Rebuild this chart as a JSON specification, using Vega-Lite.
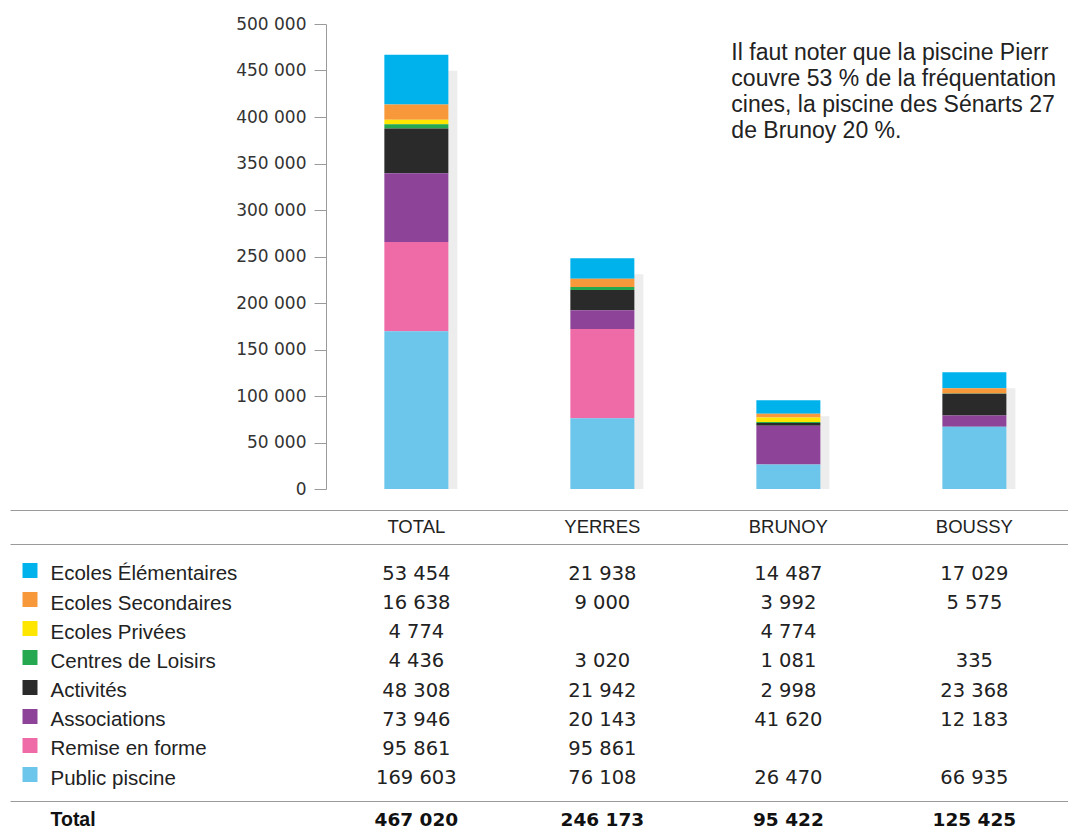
{
  "$schema": "https://vega.github.io/schema/vega-lite/v6.json",
  "padding": {"left": 10, "top": 15, "right": 0, "bottom": 0},
  "bounds": "flush",
  "spacing": 55,
  "config": {
    "locale": {"number": {"decimal": ",", "thousands": " ", "grouping": [3], "currency": ["", " €"]}},
    "font": "Liberation Sans",
    "view": {"stroke": null},
    "axis": {"grid": false}
  },
  "datasets": {
    "cats": [
      {"cat": "Public piscine", "rank": 1},
      {"cat": "Remise en forme", "rank": 2},
      {"cat": "Associations", "rank": 3},
      {"cat": "Activités", "rank": 4},
      {"cat": "Centres de Loisirs", "rank": 5},
      {"cat": "Ecoles Privées", "rank": 6},
      {"cat": "Ecoles Secondaires", "rank": 7},
      {"cat": "Ecoles Élémentaires", "rank": 8}
    ],
    "rows": [
      {"cat": "Ecoles Élémentaires", "col": "TOTAL", "v": 53454},
      {"cat": "Ecoles Élémentaires", "col": "YERRES", "v": 21938},
      {"cat": "Ecoles Élémentaires", "col": "BRUNOY", "v": 14487},
      {"cat": "Ecoles Élémentaires", "col": "BOUSSY", "v": 17029},
      {"cat": "Ecoles Secondaires", "col": "TOTAL", "v": 16638},
      {"cat": "Ecoles Secondaires", "col": "YERRES", "v": 9000},
      {"cat": "Ecoles Secondaires", "col": "BRUNOY", "v": 3992},
      {"cat": "Ecoles Secondaires", "col": "BOUSSY", "v": 5575},
      {"cat": "Ecoles Privées", "col": "TOTAL", "v": 4774},
      {"cat": "Ecoles Privées", "col": "BRUNOY", "v": 4774},
      {"cat": "Centres de Loisirs", "col": "TOTAL", "v": 4436},
      {"cat": "Centres de Loisirs", "col": "YERRES", "v": 3020},
      {"cat": "Centres de Loisirs", "col": "BRUNOY", "v": 1081},
      {"cat": "Centres de Loisirs", "col": "BOUSSY", "v": 335},
      {"cat": "Activités", "col": "TOTAL", "v": 48308},
      {"cat": "Activités", "col": "YERRES", "v": 21942},
      {"cat": "Activités", "col": "BRUNOY", "v": 2998},
      {"cat": "Activités", "col": "BOUSSY", "v": 23368},
      {"cat": "Associations", "col": "TOTAL", "v": 73946},
      {"cat": "Associations", "col": "YERRES", "v": 20143},
      {"cat": "Associations", "col": "BRUNOY", "v": 41620},
      {"cat": "Associations", "col": "BOUSSY", "v": 12183},
      {"cat": "Remise en forme", "col": "TOTAL", "v": 95861},
      {"cat": "Remise en forme", "col": "YERRES", "v": 95861},
      {"cat": "Public piscine", "col": "TOTAL", "v": 169603},
      {"cat": "Public piscine", "col": "YERRES", "v": 76108},
      {"cat": "Public piscine", "col": "BRUNOY", "v": 26470},
      {"cat": "Public piscine", "col": "BOUSSY", "v": 66935}
    ],
    "totals": [
      {"col": "TOTAL", "total": 467020},
      {"col": "YERRES", "total": 246173},
      {"col": "BRUNOY", "total": 95422},
      {"col": "BOUSSY", "total": 125425}
    ]
  },
  "vconcat": [
    {
      "width": 1058,
      "height": 465,
      "layer": [
        {
          "data": {"name": "rows"},
          "mark": {"type": "bar", "width": 64, "xOffset": 9, "yOffset": 16, "y2Offset": 16, "color": "#dcdcdc", "opacity": 0.5},
          "encoding": {
            "x": {
              "field": "col", "type": "nominal",
              "scale": {"type": "band", "domain": ["TOTAL", "YERRES", "BRUNOY", "BOUSSY"], "paddingInner": 0, "paddingOuter": 0.844, "align": 0.998},
              "axis": {"title": null, "orient": "bottom", "offset": 21, "ticks": false, "domainColor": "#9a9a9a", "labelPadding": 7, "labelFontSize": 18.5, "labelColor": "#222", "labelAngle": 0, "bandPosition": 0.5}
            },
            "y": {"aggregate": "sum", "field": "v", "type": "quantitative", "stack": null}
          }
        },
        {
          "data": {"name": "rows"},
          "transform": [
            {"lookup": "cat", "from": {"data": {"name": "cats"}, "key": "cat", "fields": ["rank"]}}
          ],
          "mark": {"type": "bar", "width": 64},
          "encoding": {
            "x": {"field": "col", "type": "nominal"},
            "y": {
              "field": "v", "type": "quantitative", "stack": "zero",
              "scale": {"domain": [0, 500000]},
              "axis": {"title": null, "offset": -316, "values": [0, 50000, 100000, 150000, 200000, 250000, 300000, 350000, 400000, 450000, 500000], "format": ",d", "tickSize": 12, "labelPadding": 8, "domainColor": "#9a9a9a", "tickColor": "#9a9a9a", "labelFont": "DejaVu Sans", "labelFontSize": 17, "labelColor": "#333"}
            },
            "order": {"field": "rank", "type": "quantitative", "sort": "ascending"},
            "color": {
              "field": "cat", "type": "nominal",
              "scale": {
                "domain": ["Public piscine", "Remise en forme", "Associations", "Activités", "Centres de Loisirs", "Ecoles Privées", "Ecoles Secondaires", "Ecoles Élémentaires"],
                "range": ["#6CC5EA", "#EE6BA8", "#8C4398", "#2A2A2A", "#25A84F", "#FFE600", "#F7993B", "#00B2EC"]
              },
              "legend": null
            }
          }
        },
        {
          "data": {"values": [{}]},
          "mark": {
            "type": "text", "align": "left", "baseline": "alphabetic", "dx": -57,
            "fontSize": 23, "lineHeight": 26, "color": "#222",
            "text": ["Il faut noter que la piscine Pierr", "couvre 53 % de la fréquentation", "cines, la piscine des Sénarts 27", "de Brunoy 20 %."]
          },
          "encoding": {
            "x": {"datum": "BRUNOY", "type": "nominal"},
            "y": {"datum": 461300, "type": "quantitative"}
          }
        }
      ]
    },
    {
      "bounds": "flush",
      "spacing": 0,
      "vconcat": [
        {
          "width": 1058,
          "height": 257,
          "data": {"name": "rows"},
          "mark": {"type": "text", "font": "DejaVu Sans", "fontSize": 19.5, "color": "#222"},
          "encoding": {
            "x": {
              "field": "col", "type": "nominal",
              "scale": {"type": "band", "domain": ["TOTAL", "YERRES", "BRUNOY", "BOUSSY"], "paddingInner": 0, "paddingOuter": 0.844, "align": 0.998},
              "axis": {"title": null, "orient": "top", "labels": false, "ticks": false, "domainColor": "#9a9a9a"}
            },
            "y": {
              "field": "cat", "type": "nominal",
              "scale": {"type": "band", "domain": ["Ecoles Élémentaires", "Ecoles Secondaires", "Ecoles Privées", "Centres de Loisirs", "Activités", "Associations", "Remise en forme", "Public piscine"], "paddingInner": 0, "paddingOuter": 0.409, "align": 0.647},
              "axis": {
                "title": null, "orient": "left", "offset": -27, "domain": false, "bandPosition": 0.5,
                "ticks": true, "tickSize": 15, "tickWidth": 15, "tickOffset": -4, "labelOffset": 4,
                "tickColor": {
                  "condition": [
                    {"test": "datum.value === 'Ecoles Élémentaires'", "value": "#00B2EC"},
                    {"test": "datum.value === 'Ecoles Secondaires'", "value": "#F7993B"},
                    {"test": "datum.value === 'Ecoles Privées'", "value": "#FFE600"},
                    {"test": "datum.value === 'Centres de Loisirs'", "value": "#25A84F"},
                    {"test": "datum.value === 'Activités'", "value": "#2A2A2A"},
                    {"test": "datum.value === 'Associations'", "value": "#8C4398"},
                    {"test": "datum.value === 'Remise en forme'", "value": "#EE6BA8"}
                  ],
                  "value": "#6CC5EA"
                },
                "labelAlign": "left", "labelPadding": -28, "labelLimit": 400, "labelFontSize": 20.5, "labelColor": "#222"
              }
            },
            "text": {"field": "v", "type": "quantitative", "format": ",d"}
          }
        },
        {
          "width": 1058,
          "height": 29,
          "data": {"name": "totals"},
          "mark": {"type": "text", "font": "DejaVu Sans", "fontSize": 18.5, "fontWeight": "bold", "color": "#111", "dy": 4},
          "encoding": {
            "x": {
              "field": "col", "type": "nominal",
              "scale": {"type": "band", "domain": ["TOTAL", "YERRES", "BRUNOY", "BOUSSY"], "paddingInner": 0, "paddingOuter": 0.844, "align": 0.998},
              "axis": {"title": null, "orient": "top", "labels": false, "ticks": false, "domainColor": "#9a9a9a"}
            },
            "y": {
              "datum": "Total", "type": "nominal",
              "scale": {"type": "band", "paddingInner": 0, "paddingOuter": 0},
              "axis": {"title": null, "domain": false, "ticks": false, "offset": -40, "labelAlign": "left", "labelPadding": 0, "labelFontWeight": "bold", "labelFontSize": 19.5, "labelOffset": 4, "labelColor": "#111"}
            },
            "text": {"field": "total", "type": "quantitative", "format": ",d"}
          }
        }
      ]
    }
  ]
}
